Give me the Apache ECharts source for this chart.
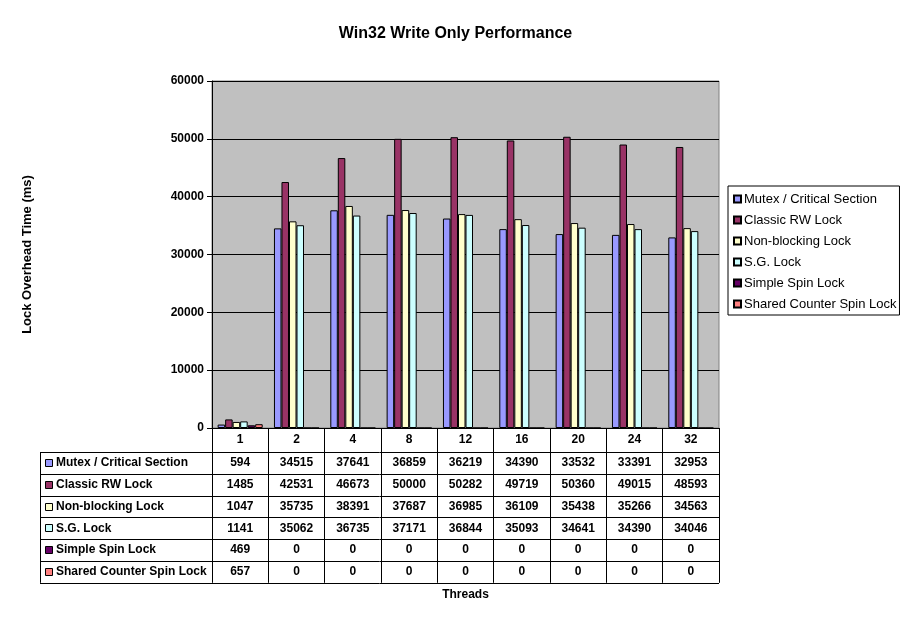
<!DOCTYPE html>
<html>
<head>
<meta charset="utf-8">
<script src="https://cdn.jsdelivr.net/npm/echarts@6/dist/echarts.min.js"></script>
<style>
  html, body { margin: 0; padding: 0; background: #fff; }
  #chart { width: 911px; height: 623px; }
</style>
</head>
<body>
<div id="chart"></div>
<script>
const threads = ['1', '2', '4', '8', '12', '16', '20', '24', '32'];
const seriesNames = ['Mutex / Critical Section', 'Classic RW Lock', 'Non-blocking Lock', 'S.G. Lock', 'Simple Spin Lock', 'Shared Counter Spin Lock'];
const mutexCS = [594, 34515, 37641, 36859, 36219, 34390, 33532, 33391, 32953];
const classicRW = [1485, 42531, 46673, 50000, 50282, 49719, 50360, 49015, 48593];
const nonBlocking = [1047, 35735, 38391, 37687, 36985, 36109, 35438, 35266, 34563];
const sgLock = [1141, 35062, 36735, 37171, 36844, 35093, 34641, 34390, 34046];
const simpleSpin = [469, 0, 0, 0, 0, 0, 0, 0, 0];
const sharedCounterSpin = [657, 0, 0, 0, 0, 0, 0, 0, 0];
const yTicks = [0, 10000, 20000, 30000, 40000, 50000, 60000];

const seriesData = [mutexCS, classicRW, nonBlocking, sgLock, simpleSpin, sharedCounterSpin];
const colors = ['#9999FF', '#993366', '#FFFFCC', '#CCFFFF', '#660066', '#FF8080'];

const FONT = '"Liberation Sans", Arial, sans-serif';
const G = { left: 212, right: 719, top: 81, bottom: 428 };
const tableLeft = 40;
const headerH = 24;
const rowH = 21.8;

const chart = echarts.init(document.getElementById('chart'));

chart.setOption({
  backgroundColor: '#fff',
  animation: false,
  color: colors,
  title: {
    text: 'Win32 Write Only Performance',
    left: 'center',
    top: 21,
    textStyle: { fontFamily: FONT, fontSize: 16, fontWeight: 'bold', color: '#000' },
  },
  legend: {
    orient: 'vertical',
    left: 728,
    top: 186,
    data: seriesNames,
    icon: 'rect',
    itemWidth: 7,
    itemHeight: 7,
    itemGap: 7,
    padding: [6, 3, 4, 5],
    borderColor: '#000',
    borderWidth: 1,
    textStyle: { fontFamily: FONT, fontSize: 13, color: '#000', lineHeight: 14, padding: [0, 0, 0, -2] },
  },
  grid: {
    left: G.left,
    right: 911 - G.right,
    top: G.top,
    bottom: 623 - G.bottom,
    show: true,
    backgroundColor: '#C0C0C0',
    borderColor: '#808080',
    borderWidth: 1,
    containLabel: false,
  },
  xAxis: {
    type: 'category',
    data: threads,
    axisLine: { lineStyle: { color: '#000', width: 1 } },
    axisTick: { show: true, interval: 0, length: headerH + rowH * 6, lineStyle: { color: '#000' } },
    axisLabel: { margin: 6, fontFamily: FONT, fontSize: 12, fontWeight: 'bold', color: '#000' },
  },
  yAxis: {
    type: 'value',
    min: yTicks[0],
    max: yTicks[yTicks.length - 1],
    interval: 10000,
    name: 'Lock Overhead Time (ms)',
    nameLocation: 'middle',
    nameGap: 178,
    nameTextStyle: { fontFamily: FONT, fontSize: 13, fontWeight: 'bold', color: '#000' },
    axisLine: { show: true, lineStyle: { color: '#000' } },
    axisTick: { show: true, length: 5, lineStyle: { color: '#000' } },
    axisLabel: { margin: 8, fontFamily: FONT, fontSize: 12, fontWeight: 'bold', color: '#000', formatter: (v) => String(v) },
    splitLine: { lineStyle: { color: '#000', width: 1 } },
  },
  series: seriesNames.map((name, i) => ({
    name,
    type: 'bar',
    data: seriesData[i],
    barGap: '0%',
    barCategoryGap: '20%',
    itemStyle: { color: colors[i], borderColor: '#000', borderWidth: 1 },
  })),
});

// data table under the plot, aligned to the category axis
const graphics = [];
const rowsTop = G.bottom + headerH;
const tableBottom = rowsTop + rowH * seriesNames.length;
const line = (x1, y1, x2, y2) => ({
  type: 'line', shape: { x1, y1, x2, y2 }, style: { stroke: '#000', lineWidth: 1 }, silent: true,
});

for (let r = 0; r <= seriesNames.length; r++) {
  const y = Math.round(rowsTop + r * rowH) + 0.5;
  graphics.push(line(tableLeft, y, G.right, y));
}
graphics.push(line(tableLeft + 0.5, rowsTop, tableLeft + 0.5, tableBottom));

seriesNames.forEach((name, r) => {
  const cy = rowsTop + r * rowH + rowH / 2;
  graphics.push({
    type: 'rect',
    shape: { x: tableLeft + 5.5, y: Math.round(cy - 4) + 0.5, width: 7, height: 7 },
    style: { fill: colors[r], stroke: '#000', lineWidth: 1 },
    silent: true,
  });
  graphics.push({
    type: 'text',
    x: tableLeft + 16,
    y: cy,
    style: { text: name, fontFamily: FONT, fontSize: 12, fontWeight: 'bold', fill: '#000', textVerticalAlign: 'middle' },
    silent: true,
  });
  seriesData[r].forEach((v, c) => {
    const cx = chart.convertToPixel({ xAxisIndex: 0 }, c);
    graphics.push({
      type: 'text',
      x: cx,
      y: cy,
      style: { text: String(v), fontFamily: FONT, fontSize: 12, fontWeight: 'bold', fill: '#000', textAlign: 'center', textVerticalAlign: 'middle' },
      silent: true,
    });
  });
});

graphics.push({
  type: 'text',
  x: (G.left + G.right) / 2,
  y: tableBottom + 12,
  style: { text: 'Threads', fontFamily: FONT, fontSize: 12, fontWeight: 'bold', fill: '#000', textAlign: 'center', textVerticalAlign: 'middle' },
  silent: true,
});

chart.setOption({ graphic: graphics });
</script>
</body>
</html>
